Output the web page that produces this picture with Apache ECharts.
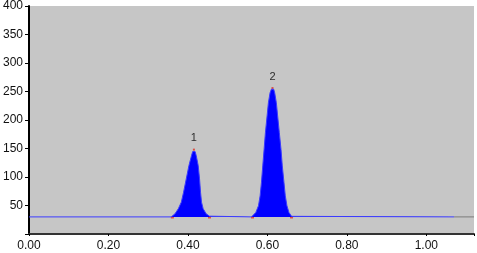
<!DOCTYPE html>
<html>
<head>
<meta charset="utf-8">
<script src="https://cdn.jsdelivr.net/npm/echarts@6/dist/echarts.min.js"></script>
<style>html,body{margin:0;padding:0;background:#fff}#c{width:477px;height:253px}</style>
</head>
<body>
<div id="c"></div>
<script>
// retention time (min) and detector signal
const signalTime = [0.00, 0.358, 0.3608, 0.3675, 0.3758, 0.3833, 0.389, 0.3958, 0.4025, 0.409, 0.412, 0.415, 0.418, 0.4208, 0.4258, 0.4292, 0.4317, 0.4342, 0.4383, 0.4458, 0.4542, 0.456,
  0.5600, 0.5625, 0.5708, 0.5775, 0.5817, 0.585, 0.5883, 0.5917, 0.595, 0.5992, 0.6025, 0.6067, 0.6100, 0.6128, 0.6158, 0.6183, 0.6225, 0.6258, 0.63, 0.6342, 0.6375, 0.6417, 0.645, 0.6492, 0.6542, 0.6608, 0.663, 1.07];
const signalValue = [30, 30, 31.3, 35.5, 44.3, 55.8, 73.3, 96.8, 120, 137.6, 144.6, 148, 144.6, 137.6, 120, 96.8, 73.3, 55.8, 44.3, 35.5, 31.3, 30,
  30, 31, 37.8, 49.5, 67, 90.3, 119.5, 148.6, 177.8, 207, 230.3, 247.8, 254, 256, 254, 247.8, 230.3, 207, 177.8, 148.6, 119.5, 90.3, 67, 49.5, 37.8, 31, 30, 30];
const tailTime = [1.07, 1.12];
const tailValue = [30, 30];
const peakNames = ['1', '2'];
const peakTime = [0.415, 0.6128];
const peakValue = [148, 256];
const markTime = [0.3608, 0.4542, 0.5625, 0.6608];
const markValue = [29, 29, 29, 29];
const yTicks = [50, 100, 150, 200, 250, 300, 350, 400];
const xTicks = ['0.00', '0.20', '0.40', '0.60', '0.80', '1.00'];

const chart = echarts.init(document.getElementById('c'), null, {renderer: 'canvas'});
const font = 'Liberation Sans, Arial, sans-serif';
chart.setOption({
  animation: false,
  grid: {left: 29, top: 5, right: 0, bottom: 19, show: true, backgroundColor: '#c6c6c6', borderWidth: 0},
  xAxis: {
    type: 'value', min: 0, max: 1.12, interval: 0.2,
    axisLine: {lineStyle: {color: '#333', width: 2}},
    axisTick: {show: true, length: 2, lineStyle: {color: '#000'}},
    splitLine: {show: false},
    axisLabel: {
      color: '#111', fontFamily: font, fontSize: 12, margin: 6,
      formatter: v => xTicks.find(t => Math.abs(parseFloat(t) - v) < 1e-6) || ''
    }
  },
  yAxis: {
    type: 'value', min: 0, max: 400, interval: 50,
    axisLine: {show: true, lineStyle: {color: '#000', width: 2}},
    axisTick: {show: true, length: 4, lineStyle: {color: '#000'}},
    splitLine: {show: false},
    axisLabel: {
      color: '#111', fontFamily: font, fontSize: 12, margin: 6,
      formatter: v => yTicks.includes(v) ? String(v) : ''
    }
  },
  series: [
    {
      type: 'line', symbol: 'none', silent: true,
      data: signalTime.map((t, i) => [t, signalValue[i]]),
      lineStyle: {color: '#3b3bff', width: 1},
      areaStyle: {color: '#0000ff', opacity: 1, origin: 30}
    },
    {
      type: 'line', symbol: 'none', silent: true,
      data: tailTime.map((t, i) => [t, tailValue[i]]),
      lineStyle: {color: '#7a7a7a', width: 1}
    },
    {
      type: 'scatter', silent: true,
      data: markTime.map((t, i) => [t, markValue[i]]),
      symbol: 'rect', symbolSize: [3, 2],
      itemStyle: {color: '#e03020'}
    },
    {
      type: 'scatter', silent: true,
      data: peakTime.map((t, i) => [t, peakValue[i]]),
      symbol: 'rect', symbolSize: [2, 2],
      itemStyle: {color: '#e03020'},
      label: {
        show: true, position: 'top', distance: 5,
        color: '#000', fontFamily: font, fontSize: 11,
        formatter: p => peakNames[p.dataIndex]
      }
    }
  ]
});
</script>
</body>
</html>
